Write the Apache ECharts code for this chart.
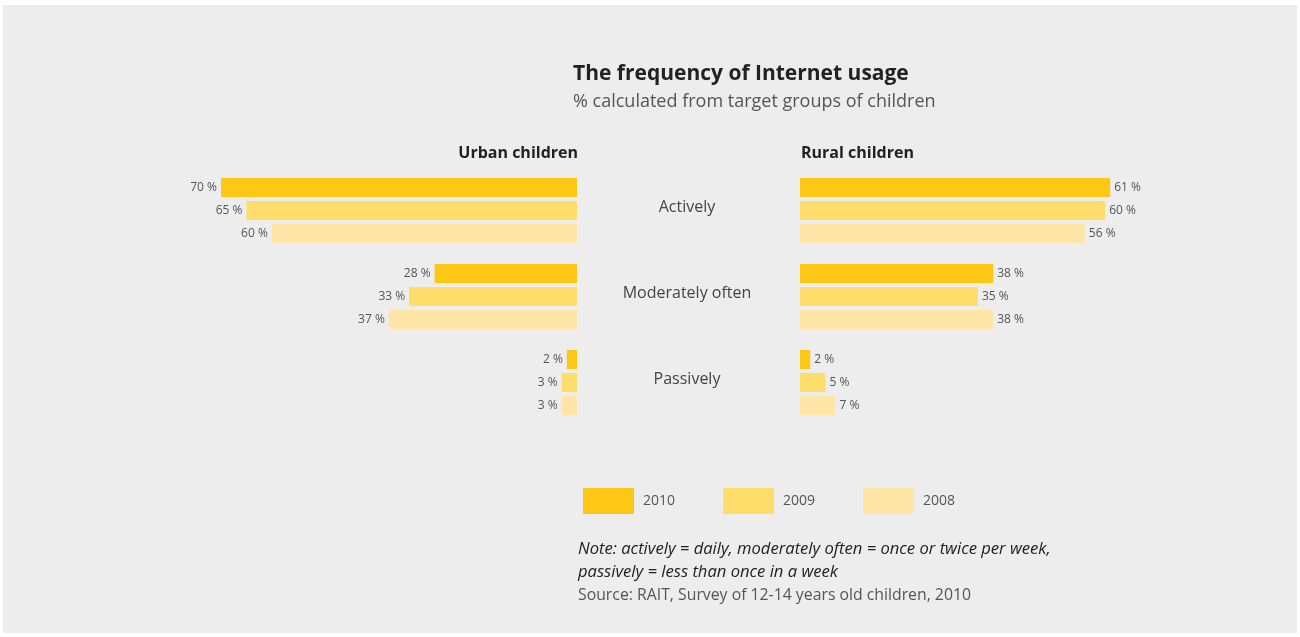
<!DOCTYPE html>
<html>
<head>
<meta charset="utf-8">
<script src="https://cdn.jsdelivr.net/npm/echarts@6/dist/echarts.min.js"></script>
<style>
html,body{margin:0;padding:0;background:#ffffff;}
#panel{position:absolute;left:3px;top:5px;width:1294px;height:628px;background:#ededed;}
#chart{position:absolute;left:0;top:0;width:1300px;height:637px;}
</style>
</head>
<body>
<div id="panel"></div>
<div id="chart"></div>
<script>
const categories = ['Actively', 'Moderately often', 'Passively'];
const years = ['2010', '2009', '2008'];
const urban2010 = [70, 28, 2];
const urban2009 = [65, 33, 3];
const urban2008 = [60, 37, 3];
const rural2010 = [61, 38, 2];
const rural2009 = [60, 35, 5];
const rural2008 = [56, 38, 7];
const colors = ['#fec615', '#ffdd6b', '#ffe5a6'];

const FONT = '"Open Sans", "Noto Sans", sans-serif';
const chart = echarts.init(document.getElementById('chart'), null, {renderer: 'canvas'});

function mkSeries(name, data, gridIdx, color) {
  return {
    name: name,
    type: 'bar',
    xAxisIndex: gridIdx,
    yAxisIndex: gridIdx,
    data: data,
    barWidth: 19,
    barGap: '21%',
    itemStyle: {color: color},
    label: {
      show: true,
      position: gridIdx === 0 ? 'left' : 'right',
      distance: 4,
      formatter: '{c} %',
      fontFamily: FONT,
      fontSize: 12,
      color: '#555'
    },
    emphasis: {disabled: true},
    animation: false
  };
}

const option = {
  backgroundColor: 'transparent',
  animation: false,
  title: [
    {text: 'The frequency of Internet usage', left: 573, top: 64, padding: 0,
     textStyle: {fontFamily: FONT, fontSize: 21, fontWeight: 'bold', color: '#222'}},
    {text: '% calculated from target groups of children', left: 573, top: 93, padding: 0,
     textStyle: {fontFamily: FONT, fontSize: 18, fontWeight: 'normal', color: '#555'}},
    {text: 'Urban children', right: 722, top: 145, padding: 0,
     textStyle: {fontFamily: FONT, fontSize: 16, fontWeight: 'bold', color: '#222'}},
    {text: 'Rural children', left: 801, top: 145, padding: 0,
     textStyle: {fontFamily: FONT, fontSize: 16, fontWeight: 'bold', color: '#222'}}
  ],
  legend: {
    left: 583, top: 488, padding: 0,
    itemWidth: 51, itemHeight: 26, itemGap: 48,
    icon: 'rect',
    data: years,
    selectedMode: false,
    textStyle: {fontFamily: FONT, fontSize: 14, color: '#555', padding: [2, 0, 0, 4]}
  },
  grid: [
    {left: 221, width: 356, top: 167.5, height: 258},
    {left: 800, width: 356, top: 167.5, height: 258}
  ],
  xAxis: [
    {gridIndex: 0, type: 'value', min: 0, max: 70, inverse: true, show: false},
    {gridIndex: 1, type: 'value', min: 0, max: 70, show: false}
  ],
  yAxis: [
    {gridIndex: 0, type: 'category', data: categories, inverse: true, show: false},
    {gridIndex: 1, type: 'category', data: categories, inverse: true,
     axisLine: {show: false}, axisTick: {show: false}, splitLine: {show: false},
     axisLabel: {show: true, align: 'center', margin: 113, verticalAlign: 'bottom', lineHeight: 6,
       fontFamily: FONT, fontSize: 16, color: '#444'}}
  ],
  series: [
    mkSeries('2010', urban2010, 0, colors[0]),
    mkSeries('2009', urban2009, 0, colors[1]),
    mkSeries('2008', urban2008, 0, colors[2]),
    mkSeries('2010', rural2010, 1, colors[0]),
    mkSeries('2009', rural2009, 1, colors[1]),
    mkSeries('2008', rural2008, 1, colors[2])
  ],
  graphic: [
    {type: 'text', left: 578, top: 538,
     style: {text: 'Note: actively = daily, moderately often = once or twice per week,\npassively = less than once in a week',
       font: 'italic 16.6px ' + FONT, fill: '#222', lineHeight: 23}},
    {type: 'text', left: 578, top: 587,
     style: {text: 'Source: RAIT, Survey of 12-14 years old children, 2010',
       font: '15.8px ' + FONT, fill: '#555'}}
  ]
};
chart.setOption(option);
</script>
</body>
</html>
